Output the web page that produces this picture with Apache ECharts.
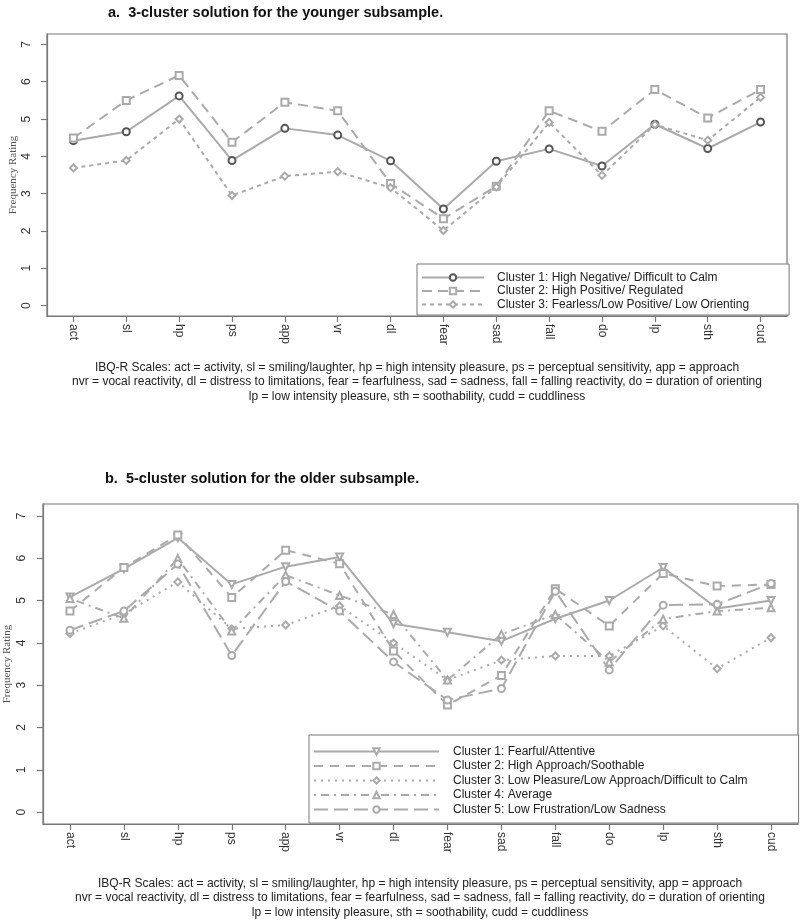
<!DOCTYPE html>
<html>
<head>
<meta charset="utf-8">
<script src="https://cdn.jsdelivr.net/npm/echarts@6/dist/echarts.min.js"></script>
<style>
html,body{margin:0;padding:0;background:#fff;}
#chart{width:800px;height:923px;}
</style>
</head>
<body>
<div id="chart"></div>
<script>
// ---------- data ----------
const categories = ['act','sl','hp','ps','app','vr','dl','fear','sad','fall','do','lp','sth','cud'];
const yTicks = [0,1,2,3,4,5,6,7];

const titleA = 'a.  3-cluster solution for the younger subsample.';
const titleB = 'b.  5-cluster solution for the older subsample.';
const yName = 'Frequency Rating';
const captionLines = [
  'IBQ-R Scales: act = activity, sl = smiling/laughter, hp = high intensity pleasure, ps = perceptual sensitivity, app = approach',
  'nvr = vocal reactivity, dl = distress to limitations, fear = fearfulness, sad = sadness, fall = falling reactivity, do = duration of orienting',
  'lp = low intensity pleasure, sth = soothability, cudd = cuddliness'
];

// younger subsample (3 clusters)
const youngNames = [
  'Cluster 1: High Negative/ Difficult to Calm',
  'Cluster 2: High Positive/ Regulated',
  'Cluster 3: Fearless/Low Positive/ Low Orienting'
];
const youngC1 = [4.42,4.66,5.62,3.89,4.75,4.57,3.88,2.59,3.87,4.20,3.74,4.86,4.21,4.92];
const youngC2 = [4.49,5.50,6.17,4.38,5.45,5.22,3.27,2.33,3.20,5.22,4.67,5.79,5.03,5.79];
const youngC3 = [3.69,3.89,5.00,2.95,3.47,3.59,3.16,2.01,3.18,4.91,3.49,4.85,4.43,5.58];

// older subsample (5 clusters)
const oldNames = [
  'Cluster 1: Fearful/Attentive',
  'Cluster 2: High Approach/Soothable',
  'Cluster 3: Low Pleasure/Low Approach/Difficult to Calm',
  'Cluster 4: Average',
  'Cluster 5: Low Frustration/Low Sadness'
];
const oldC1 = [5.08,5.75,6.48,5.38,5.80,6.03,4.45,4.25,4.04,4.57,5.00,5.78,4.81,5.00];
const oldC2 = [4.75,5.78,6.55,5.07,6.19,5.87,3.81,2.53,3.23,5.28,4.40,5.64,5.34,5.38];
const oldC3 = [4.22,4.68,5.44,4.33,4.42,4.87,4.00,3.12,3.59,3.69,3.69,4.40,3.39,4.12];
const oldC4 = [5.05,4.58,5.99,4.28,5.60,5.12,4.67,3.12,4.20,4.67,3.55,4.56,4.75,4.83];
const oldC5 = [4.30,4.75,5.86,3.70,5.45,4.75,3.55,2.65,2.92,5.22,3.36,4.89,4.91,5.40];

// ---------- styling ----------
const FONT = 'Liberation Sans, Arial, Helvetica, sans-serif';
const SERIF = 'Liberation Serif, Times New Roman, serif';
const BOX = '#777';
const LINE = '#aaaaaa';

function xAxis(gridIndex){
  return {
    type:'category', gridIndex, data: categories, boundaryGap:true,
    axisLine:{show:true, onZero:false, lineStyle:{color:BOX, width:1.2}},
    axisTick:{show:true, alignWithLabel:true, length:6, lineStyle:{color:BOX, width:1.2}},
    axisLabel:{rotate:-90, margin:8, fontSize:12, fontFamily:FONT, color:'#333', interval:0},
    splitLine:{show:false}
  };
}
function yAxis(gridIndex, gap, labelMargin){
  return {
    type:'value', gridIndex, min:-0.28, max:7.28,
    name: yName, nameLocation:'middle', nameGap: gap, nameMoveOverlap:false,
    nameTextStyle:{fontFamily:SERIF, fontSize:11, color:'#555'},
    axisLine:{show:true, lineStyle:{color:BOX, width:1.2}},
    axisTick:{show:true, length:6, customValues: yTicks, lineStyle:{color:BOX, width:1.2}},
    axisLabel:{rotate:90, margin:labelMargin, fontSize:12, fontFamily:FONT, color:'#333', customValues: yTicks},
    splitLine:{show:false}
  };
}
function lineSeries(name, data, idx, symbol, dash, symColor, rot){
  return {
    type:'line', name, data, xAxisIndex:idx, yAxisIndex:idx,
    symbol, symbolSize:7, symbolRotate: rot || 0, showAllSymbol:true,
    lineStyle:{color:LINE, width:2, type:dash},
    itemStyle:{color:symColor, borderWidth:1},
    emphasis:{disabled:true}
  };
}

const chart = echarts.init(document.getElementById('chart'), null, {renderer:'canvas'});
chart.setOption({
  animation:false,
  backgroundColor:'#fff',
  title:[
    {text:titleA, left:103, top:0, textStyle:{fontSize:14.5, fontWeight:'bold', fontFamily:FONT, color:'#111'}},
    {text:titleB, left:100, top:466, textStyle:{fontSize:14.5, fontWeight:'bold', fontFamily:FONT, color:'#111'}}
  ],
  grid:[
    {left:47, right:13, top:34, bottom:607, containLabel:false, outerBoundsMode:'none', show:true, borderColor:BOX, borderWidth:1.2, backgroundColor:'transparent'},
    {left:43, right:2, top:504, bottom:99, containLabel:false, outerBoundsMode:'none', show:true, borderColor:BOX, borderWidth:1.2, backgroundColor:'transparent'}
  ],
  xAxis:[xAxis(0), xAxis(1)],
  yAxis:[yAxis(0, 28, 14), yAxis(1, 30, 15)],
  legend:[
    {
      data: youngNames, orient:'vertical', left:417, top:264, z:10,
      padding:[7,40,4,4], itemWidth:62, itemHeight:8, itemGap:0.5,
      backgroundColor:'#fff', borderColor:BOX, borderWidth:1, selectedMode:false,
      textStyle:{fontSize:12, fontFamily:FONT, color:'#222', lineHeight:13, padding:[0,0,0,8]}
    },
    {
      data: oldNames, orient:'vertical', left:309, top:735, z:10,
      padding:[10,51,7,4], itemWidth:125, itemHeight:8, itemGap:1.5,
      backgroundColor:'#fff', borderColor:BOX, borderWidth:1, selectedMode:false,
      textStyle:{fontSize:12, fontFamily:FONT, color:'#222', lineHeight:13, padding:[0,0,0,9]}
    }
  ],
  series:[
    lineSeries(youngNames[0], youngC1, 0, 'emptyCircle', 'solid', '#555'),
    lineSeries(youngNames[1], youngC2, 0, 'emptyRect', [10,6], '#aaa'),
    lineSeries(youngNames[2], youngC3, 0, 'emptyDiamond', [4,4], '#aaa'),
    lineSeries(oldNames[0], oldC1, 1, 'emptyTriangle', 'solid', '#aaa', 180),
    lineSeries(oldNames[1], oldC2, 1, 'emptyRect', [9,7], '#aaa'),
    lineSeries(oldNames[2], oldC3, 1, 'emptyDiamond', [2,5], '#aaa'),
    lineSeries(oldNames[3], oldC4, 1, 'emptyTriangle', [2,5,8,5], '#aaa'),
    lineSeries(oldNames[4], oldC5, 1, 'emptyCircle', [14,6], '#aaa')
  ],
  graphic:[
    {type:'text', x:417, y:360, style:{text:captionLines.join('\n'), align:'center', textAlign:'center', font:'12px '+FONT, lineHeight:14.5, fill:'#222'}},
    {type:'text', x:420, y:876, style:{text:captionLines.join('\n'), align:'center', textAlign:'center', font:'12px '+FONT, lineHeight:14.5, fill:'#222'}}
  ]
});
</script>
</body>
</html>
